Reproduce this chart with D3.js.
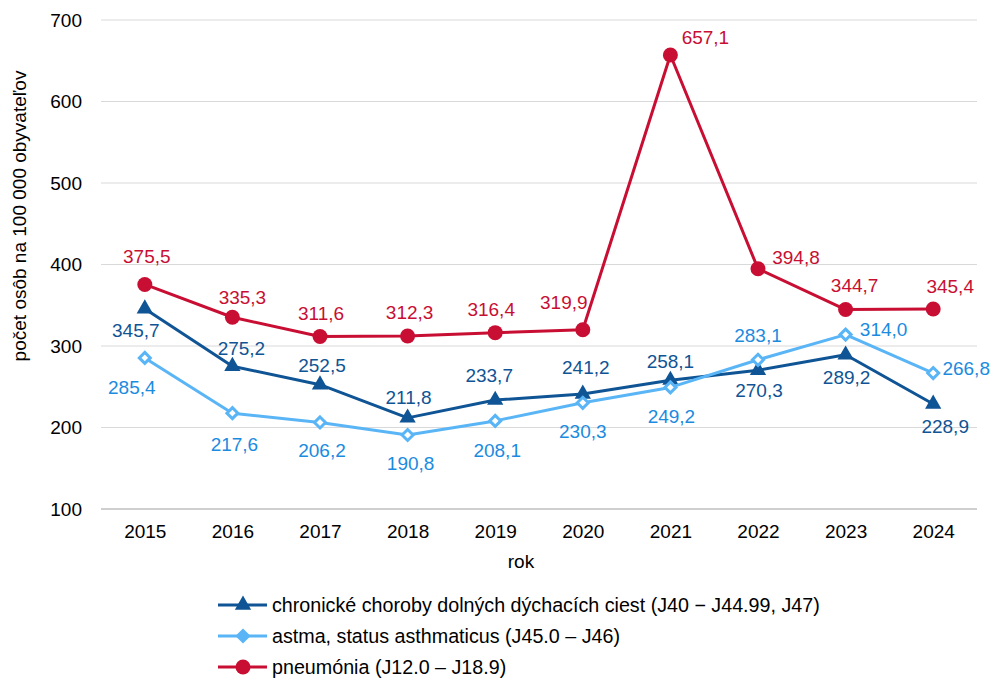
<!DOCTYPE html>
<html>
<head>
<meta charset="utf-8">
<script src="https://cdn.jsdelivr.net/npm/d3@7"></script>
<style>
  body { margin: 0; background: #fff; }
  text { font-family: "Liberation Sans", Arial, sans-serif; }
</style>
</head>
<body>
<script>
const years = ["2015", "2016", "2017", "2018", "2019", "2020", "2021", "2022", "2023", "2024"];
const chronic = [345.7, 275.2, 252.5, 211.8, 233.7, 241.2, 258.1, 270.3, 289.2, 228.9];
const asthma = [285.4, 217.6, 206.2, 190.8, 208.1, 230.3, 249.2, 283.1, 314.0, 266.8];
const pneumonia = [375.5, 335.3, 311.6, 312.3, 316.4, 319.9, 657.1, 394.8, 344.7, 345.4];
const yTicks = [100, 200, 300, 400, 500, 600, 700];
const seriesNames = [
  "chronické choroby dolných dýchacích ciest (J40 − J44.99, J47)",
  "astma, status asthmaticus (J45.0 – J46)",
  "pneumónia (J12.0 – J18.9)"
];

// label placement (px offset from the marker), set by hand like in the original
const chronicLabelPos = [[-9, 22], [9, -18], [2, -19], [1, -20], [-6, -25], [3, -26], [0, -19], [1, 20], [1, 23], [12, 23]];
const asthmaLabelPos = [[-13, 30], [2, 31], [2, 28], [3, 29], [2, 30], [0, 29], [1, 29], [0, -24], [38, -5], [33, -5]];
const pneumoniaLabelPos = [[2, -28], [10, -20], [1, -23], [2, -23], [-4, -23], [-19, -27], [35, -17], [38, -11], [9, -24], [17, -22]];

const width = 995, height = 682;
const margin = { top: 20, right: 18, bottom: 173, left: 101 };
const fontSize = 19;

const svg = d3.select("body").append("svg").attr("width", width).attr("height", height);

const x = d3.scalePoint().domain(years).range([margin.left, width - margin.right]).padding(0.5);
const y = d3.scaleLinear().domain([100, 700]).range([height - margin.bottom, margin.top]);

// grid
svg.append("g")
  .selectAll("line")
  .data(yTicks)
  .join("line")
  .attr("x1", margin.left).attr("x2", width - margin.right)
  .attr("y1", d => y(d)).attr("y2", d => y(d))
  .attr("stroke", d => d === 100 ? "#bfbfbf" : "#d9d9d9")
  .attr("stroke-width", d => d === 100 ? 1.5 : 1);

// y axis
const yAxis = d3.axisLeft(y).tickValues(yTicks).tickSize(0).tickPadding(0).tickFormat(d3.format("d"));
svg.append("g")
  .attr("transform", `translate(${margin.left - 19},0)`)
  .call(yAxis)
  .call(g => g.select(".domain").remove())
  .selectAll("text")
  .attr("font-size", fontSize).attr("fill", "#000").attr("font-family", "Liberation Sans, Arial, sans-serif");

// x axis
const xAxis = d3.axisBottom(x).tickSize(0).tickPadding(0);
svg.append("g")
  .attr("transform", `translate(0,${height - margin.bottom + 15})`)
  .call(xAxis)
  .call(g => g.select(".domain").remove())
  .selectAll("text")
  .attr("font-size", fontSize).attr("fill", "#000").attr("font-family", "Liberation Sans, Arial, sans-serif");

svg.append("text")
  .attr("x", 521).attr("y", 561)
  .attr("text-anchor", "middle").attr("dominant-baseline", "central")
  .attr("font-size", fontSize).text("rok");

svg.append("text")
  .attr("transform", "translate(19,216) rotate(-90)")
  .attr("text-anchor", "middle").attr("dominant-baseline", "central")
  .attr("font-size", fontSize).text("počet osôb na 100 000 obyvateľov");

const series = [
  { name: seriesNames[0], values: chronic, pos: chronicLabelPos, color: "#0f5494", labelColor: "#0f5494", marker: "triangle" },
  { name: seriesNames[1], values: asthma, pos: asthmaLabelPos, color: "#5ab5f6", labelColor: "#1b8be0", marker: "diamond" },
  { name: seriesNames[2], values: pneumonia, pos: pneumoniaLabelPos, color: "#c80f33", labelColor: "#c80f33", marker: "circle" }
];

function drawMarker(g, s, cx, cy, legend) {
  if (s.marker === "triangle") {
    g.append("path")
      .attr("d", d3.symbol(d3.symbolTriangle, 115)())
      .attr("transform", `translate(${cx},${cy})`)
      .attr("fill", s.color);
  } else if (s.marker === "diamond") {
    g.append("path")
      .attr("d", "M0,-5.5L5.5,0L0,5.5L-5.5,0Z")
      .attr("transform", `translate(${cx},${cy})`)
      .attr("fill", legend ? s.color : "#fff")
      .attr("stroke", s.color).attr("stroke-width", 3);
  } else {
    g.append("circle").attr("cx", cx).attr("cy", cy).attr("r", 7.5).attr("fill", s.color);
  }
}

const line = d3.line().x((d, i) => x(years[i])).y(d => y(d));

series.forEach(s => {
  const g = svg.append("g");
  g.append("path")
    .datum(s.values)
    .attr("d", line)
    .attr("fill", "none")
    .attr("stroke", s.color)
    .attr("stroke-width", 3)
    .attr("stroke-linejoin", "round");
  s.values.forEach((v, i) => drawMarker(g, s, x(years[i]), y(v), false));
});

// labels on top
series.forEach(s => {
  svg.append("g")
    .selectAll("text")
    .data(s.values)
    .join("text")
    .attr("x", (d, i) => x(years[i]) + s.pos[i][0])
    .attr("y", (d, i) => y(d) + s.pos[i][1])
    .attr("text-anchor", "middle")
    .attr("dominant-baseline", "central")
    .attr("font-size", fontSize)
    .attr("fill", s.labelColor)
    .text(d => d3.format(".1f")(d).replace(".", ","));
});

// legend
const legend = svg.append("g");
series.forEach((s, i) => {
  const ly = 605 + i * 31;
  legend.append("line")
    .attr("x1", 218).attr("x2", 267).attr("y1", ly).attr("y2", ly)
    .attr("stroke", s.color).attr("stroke-width", 3);
  drawMarker(legend, s, 243, ly, true);
  legend.append("text")
    .attr("x", 272).attr("y", ly)
    .attr("dominant-baseline", "central")
    .attr("font-size", 19.7)
    .text(s.name);
});
</script>
</body>
</html>
